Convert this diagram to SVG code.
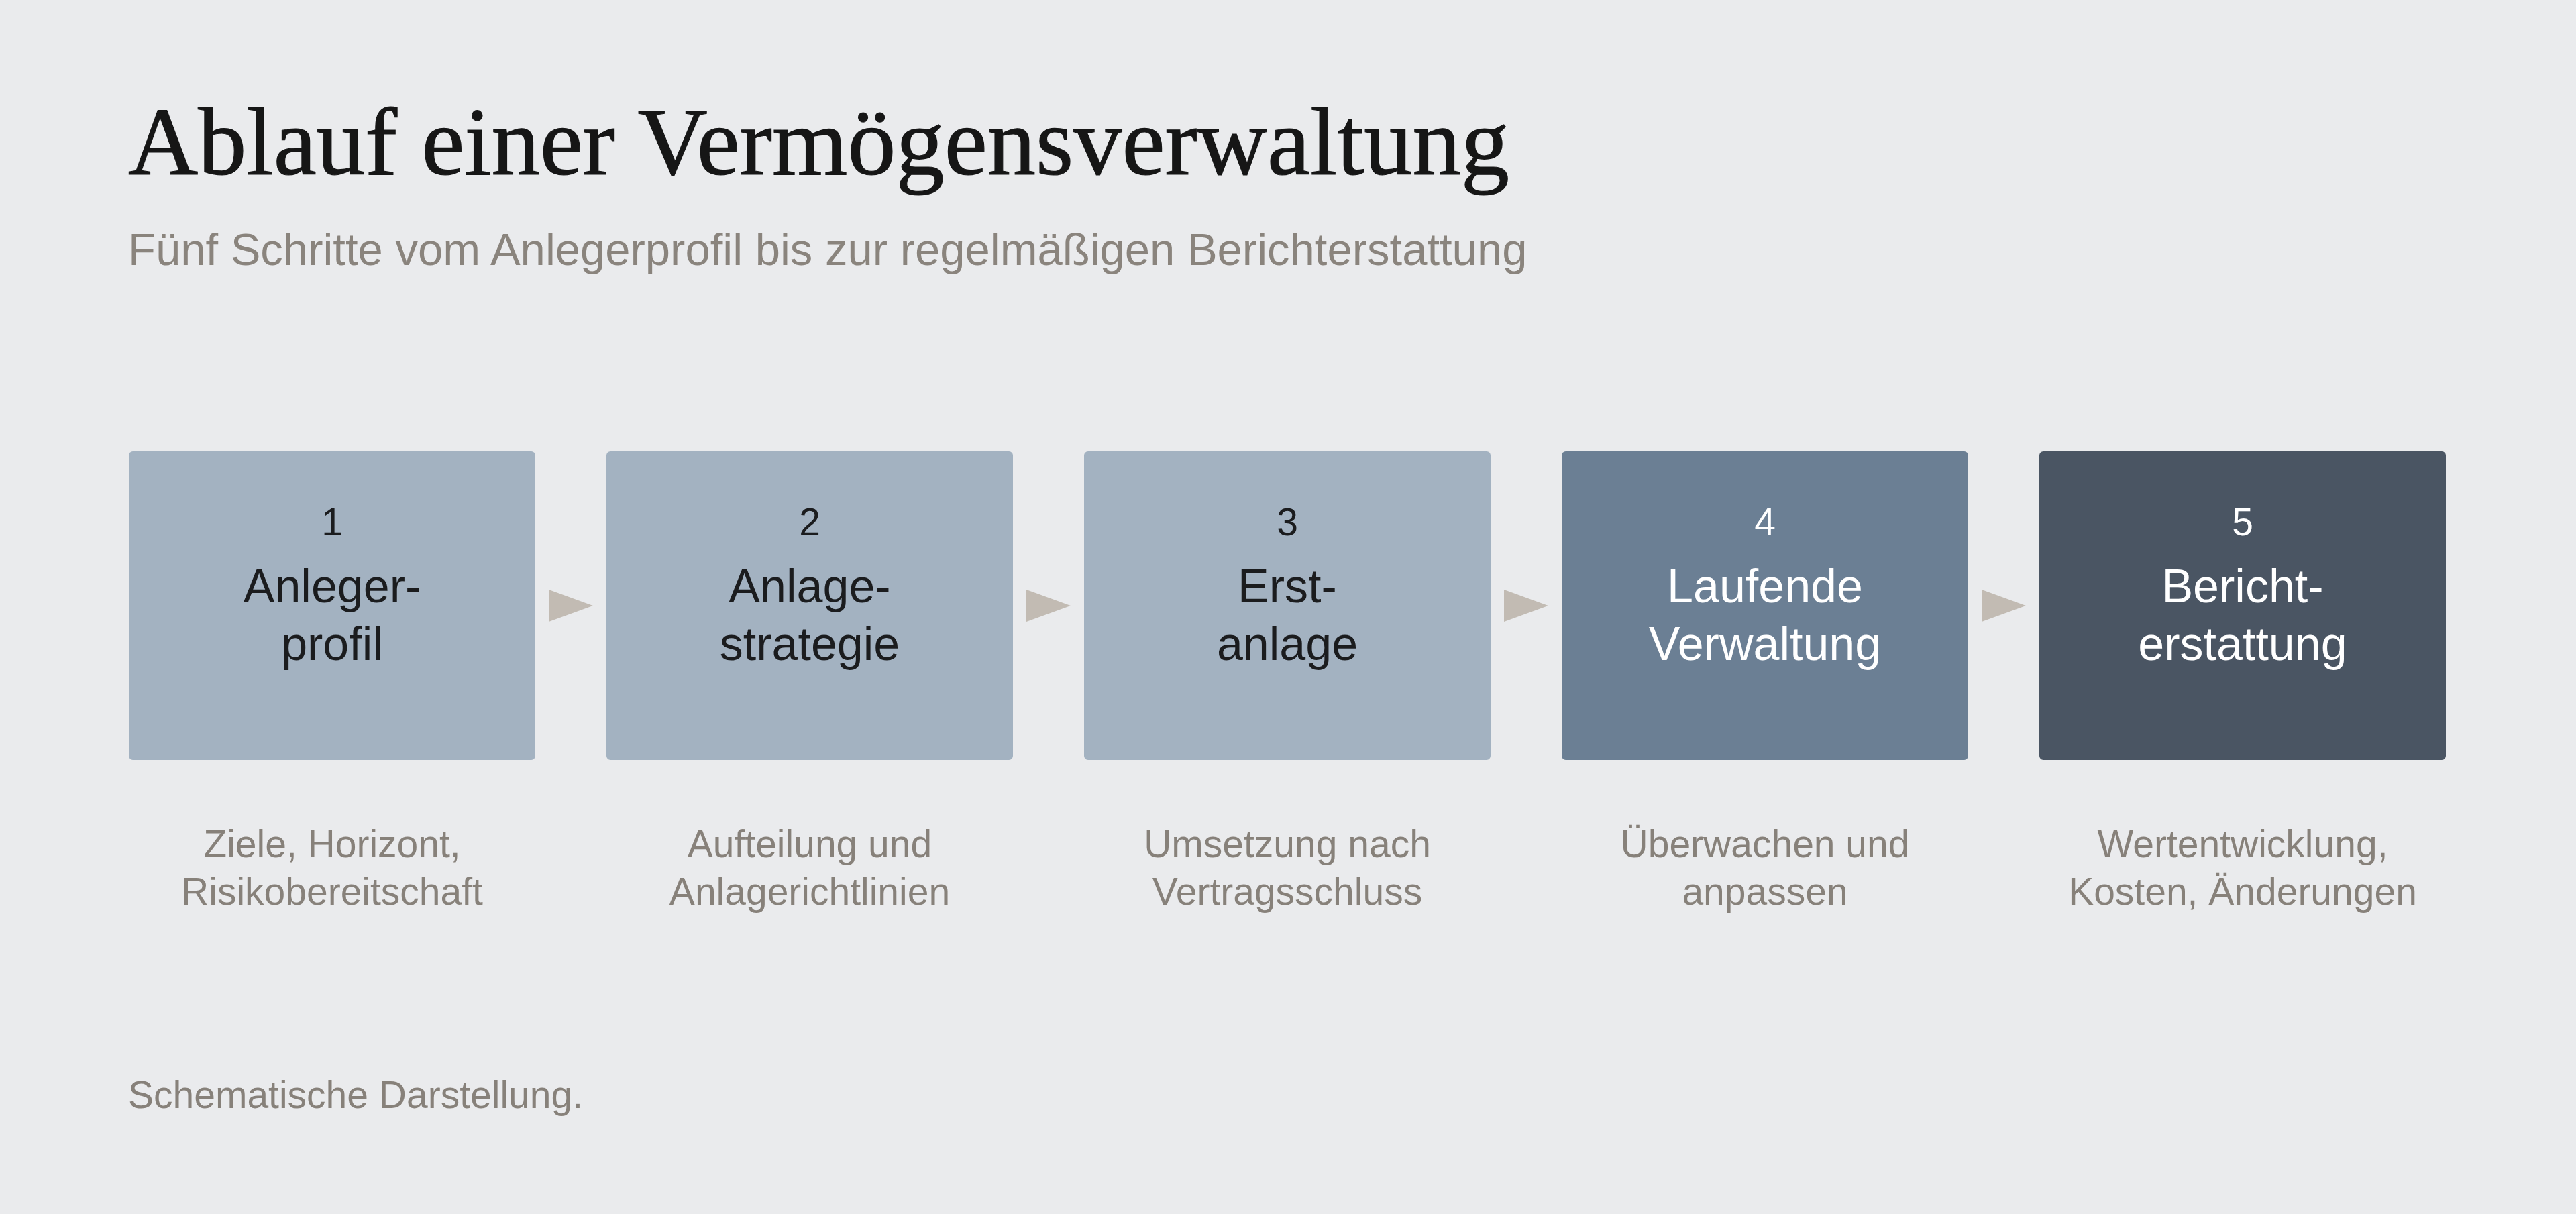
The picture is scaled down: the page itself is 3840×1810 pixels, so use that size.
<svg xmlns="http://www.w3.org/2000/svg" width="3840" height="1810" viewBox="0 0 3840 1810">
  <defs>
    <style>
      .title { font-family: "Liberation Serif", "Times New Roman", serif; font-size: 143px; fill: #161616; stroke: #161616; stroke-width: 1.2px; }
      .sub { font-family: "Liberation Sans", Arial, sans-serif; font-size: 67px; fill: #8a847d; }
      .num { font-family: "Liberation Sans", Arial, sans-serif; font-size: 57px; text-anchor: middle; }
      .lbl { font-family: "Liberation Sans", Arial, sans-serif; font-size: 70px; text-anchor: middle; }
      .dark { fill: #1b1c1e; }
      .light { fill: #ffffff; }
      .desc { font-family: "Liberation Sans", Arial, sans-serif; font-size: 57px; fill: #87817a; text-anchor: middle; }
      .foot { font-family: "Liberation Sans", Arial, sans-serif; font-size: 57px; fill: #87817a; }
      .arrow { fill: #c2bbb3; }
      .b1 { fill: #a3b2c1; }
      .b4 { fill: #6b7f94; }
      .b5 { fill: #4a5563; }
    </style>
  </defs>
  <rect x="0" y="0" width="3840" height="1810" fill="#eaebed"/>

  <text class="title" x="191" y="260" textLength="2059" lengthAdjust="spacingAndGlyphs">Ablauf einer Vermögensverwaltung</text>
  <text class="sub" x="191" y="395">Fünf Schritte vom Anlegerprofil bis zur regelmäßigen Berichterstattung</text>

  <g id="connectors">
    <polygon class="arrow" points="818,879 884,903 818,927"/>
    <polygon class="arrow" points="1530,879 1596,903 1530,927"/>
    <polygon class="arrow" points="2242,879 2308,903 2242,927"/>
    <polygon class="arrow" points="2954,879 3020,903 2954,927"/>
  </g>

  <g id="step1">
    <rect class="b1" x="192" y="673" width="606" height="460" rx="6"/>
    <text class="num dark" x="495" y="798">1</text>
    <text class="lbl dark" x="495" y="898">Anleger-</text>
    <text class="lbl dark" x="495" y="984">profil</text>
    <text class="desc" x="495" y="1278">Ziele, Horizont,</text>
    <text class="desc" x="495" y="1349">Risikobereitschaft</text>
  </g>

  <g id="step2">
    <rect class="b1" x="904" y="673" width="606" height="460" rx="6"/>
    <text class="num dark" x="1207" y="798">2</text>
    <text class="lbl dark" x="1207" y="898">Anlage-</text>
    <text class="lbl dark" x="1207" y="984">strategie</text>
    <text class="desc" x="1207" y="1278">Aufteilung und</text>
    <text class="desc" x="1207" y="1349">Anlagerichtlinien</text>
  </g>

  <g id="step3">
    <rect class="b1" x="1616" y="673" width="606" height="460" rx="6"/>
    <text class="num dark" x="1919" y="798">3</text>
    <text class="lbl dark" x="1919" y="898">Erst-</text>
    <text class="lbl dark" x="1919" y="984">anlage</text>
    <text class="desc" x="1919" y="1278">Umsetzung nach</text>
    <text class="desc" x="1919" y="1349">Vertragsschluss</text>
  </g>

  <g id="step4">
    <rect class="b4" x="2328" y="673" width="606" height="460" rx="6"/>
    <text class="num light" x="2631" y="798">4</text>
    <text class="lbl light" x="2631" y="898">Laufende</text>
    <text class="lbl light" x="2631" y="984">Verwaltung</text>
    <text class="desc" x="2631" y="1278">Überwachen und</text>
    <text class="desc" x="2631" y="1349">anpassen</text>
  </g>

  <g id="step5">
    <rect class="b5" x="3040" y="673" width="606" height="460" rx="6"/>
    <text class="num light" x="3343" y="798">5</text>
    <text class="lbl light" x="3343" y="898">Bericht-</text>
    <text class="lbl light" x="3343" y="984">erstattung</text>
    <text class="desc" x="3343" y="1278">Wertentwicklung,</text>
    <text class="desc" x="3343" y="1349">Kosten, Änderungen</text>
  </g>

  <text class="foot" x="191" y="1652">Schematische Darstellung.</text>
</svg>
